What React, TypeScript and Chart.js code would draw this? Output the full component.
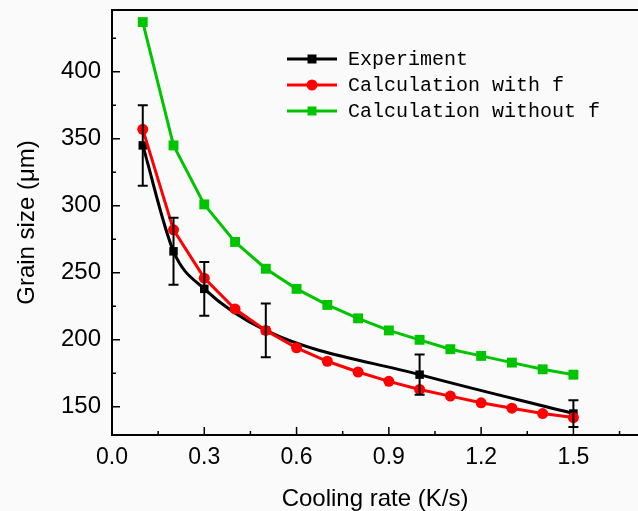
import React, { useEffect, useRef } from "react";
import { Chart, registerables } from "chart.js";
Chart.register(...registerables);

const expX = [0.1, 0.2, 0.3, 0.5, 1.0, 1.5];
const expY = [345, 266, 238, 207, 174, 145];
const expErr = [30, 25, 20, 20, 15, 10];
const calcX = [0.1, 0.2, 0.3, 0.4, 0.5, 0.6, 0.7, 0.8, 0.9, 1.0, 1.1, 1.2, 1.3, 1.4, 1.5];
const withF = [357, 282, 246, 223, 207, 194, 184, 176, 169, 163, 158, 153, 149, 145, 142];
const withoutF = [437, 345, 301, 273, 253, 238, 226, 216, 207, 200, 193, 188, 183, 178, 174];
const xMajor = [0, 0.3, 0.6, 0.9, 1.2, 1.5];
const xMinor = [0.15, 0.45, 0.75, 1.05, 1.35, 1.65];
const yMajor = [150, 200, 250, 300, 350, 400];
const yMinor = [175, 225, 275, 325, 375, 425];
const legendLabels = ["Experiment", "Calculation with f", "Calculation without f"];

const BLACK = "#000000";
const RED = "#ff0000";
const GREEN = "#00c400";

const decor = {
  id: "decor",
  afterDatasetsDraw(chart: any) {
    const { ctx, chartArea: a, scales } = chart;
    const x = scales.x;
    const y = scales.y;
    ctx.save();
    // error bars
    ctx.strokeStyle = BLACK;
    ctx.lineWidth = 2;
    expX.forEach((xv, i) => {
      const px = x.getPixelForValue(xv);
      const top = y.getPixelForValue(expY[i] + expErr[i]);
      const bot = y.getPixelForValue(expY[i] - expErr[i]);
      ctx.beginPath();
      ctx.moveTo(px, top);
      ctx.lineTo(px, bot);
      ctx.moveTo(px - 5, top);
      ctx.lineTo(px + 5, top);
      ctx.moveTo(px - 5, bot);
      ctx.lineTo(px + 5, bot);
      ctx.stroke();
    });
    // inward ticks
    ctx.lineWidth = 1.5;
    ctx.beginPath();
    xMajor.forEach((v) => {
      const p = x.getPixelForValue(v);
      ctx.moveTo(p, a.bottom);
      ctx.lineTo(p, a.bottom - 8);
    });
    xMinor.forEach((v) => {
      const p = x.getPixelForValue(v);
      ctx.moveTo(p, a.bottom);
      ctx.lineTo(p, a.bottom - 4);
    });
    yMajor.forEach((v) => {
      const p = y.getPixelForValue(v);
      ctx.moveTo(a.left, p);
      ctx.lineTo(a.left + 8, p);
    });
    yMinor.forEach((v) => {
      const p = y.getPixelForValue(v);
      ctx.moveTo(a.left, p);
      ctx.lineTo(a.left + 4, p);
    });
    ctx.stroke();
    // top frame
    ctx.lineWidth = 2;
    ctx.beginPath();
    ctx.moveTo(a.left, a.top);
    ctx.lineTo(a.right, a.top);
    ctx.stroke();
    // legend
    const colors = [BLACK, RED, GREEN];
    const styles = ["rect", "circle", "rect"];
    const rows = [59, 85, 111];
    ctx.font = "20px 'Liberation Mono'";
    ctx.textBaseline = "middle";
    ctx.textAlign = "left";
    legendLabels.forEach((lab, i) => {
      const ry = rows[i];
      ctx.strokeStyle = colors[i];
      ctx.lineWidth = 3;
      ctx.beginPath();
      ctx.moveTo(287, ry);
      ctx.lineTo(337, ry);
      ctx.stroke();
      ctx.fillStyle = colors[i];
      if (styles[i] === "circle") {
        ctx.beginPath();
        ctx.arc(312, ry, 5.5, 0, Math.PI * 2);
        ctx.fill();
      } else {
        ctx.fillRect(312 - 4.5, ry - 4.5, 9, 9);
      }
      ctx.fillStyle = BLACK;
      ctx.fillText(lab, 348, ry + 1);
    });
    ctx.restore();
  },
};

export default function App() {
  const ref = useRef<HTMLCanvasElement>(null);
  useEffect(() => {
    if (!ref.current) return;
    const chart = new Chart(ref.current, {
      type: "line",
      data: {
        datasets: [
          {
            label: legendLabels[1],
            data: calcX.map((v, i) => ({ x: v, y: withF[i] })),
            borderColor: RED,
            backgroundColor: RED,
            borderWidth: 3,
            pointStyle: "circle",
            pointRadius: 5.5,
            pointBorderWidth: 0,
            tension: 0,
            order: 0,
          },
          {
            label: legendLabels[0],
            data: expX.map((v, i) => ({ x: v, y: expY[i] })),
            borderColor: BLACK,
            backgroundColor: BLACK,
            borderWidth: 3,
            pointStyle: "rect",
            pointRadius: 6,
            pointBorderWidth: 0,
            cubicInterpolationMode: "monotone",
            order: 1,
          },
          {
            label: legendLabels[2],
            data: calcX.map((v, i) => ({ x: v, y: withoutF[i] })),
            borderColor: GREEN,
            backgroundColor: GREEN,
            borderWidth: 3,
            pointStyle: "rect",
            pointRadius: 7,
            pointBorderWidth: 0,
            tension: 0,
            order: 2,
          },
        ],
      },
      options: {
        responsive: false,
        animation: false,
        events: [],
        layout: { autoPadding: false, padding: { top: 10, right: 0, left: 0, bottom: 0 } },
        plugins: { legend: { display: false }, tooltip: { enabled: false } },
        scales: {
          x: {
            type: "linear",
            min: 0,
            max: 1.71,
            afterFit: (s: any) => {
              s.height = 76;
              s.paddingLeft = 0;
              s.paddingRight = 0;
            },
            afterBuildTicks: (s: any) => {
              s.ticks = xMajor.map((v) => ({ value: v }));
            },
            grid: { display: false, drawTicks: false },
            border: { display: true, color: BLACK, width: 2 },
            ticks: {
              padding: 9,
              color: BLACK,
              font: { family: "'Liberation Sans', Arial", size: 23 },
              callback: (v: any) => Number(v).toFixed(1),
              maxRotation: 0,
              autoSkip: false,
            },
            title: {
              display: true,
              text: "Cooling rate (K/s)",
              color: BLACK,
              font: { family: "'Liberation Sans', Arial", size: 24 },
              padding: { top: 0, bottom: -3 },
            },
          },
          y: {
            type: "linear",
            min: 129,
            max: 446,
            afterFit: (s: any) => {
              s.width = 112;
              s.paddingTop = 0;
              s.paddingBottom = 0;
            },
            afterBuildTicks: (s: any) => {
              s.ticks = yMajor.map((v) => ({ value: v }));
            },
            grid: { display: false, drawTicks: false },
            border: { display: true, color: BLACK, width: 2 },
            ticks: {
              padding: 11,
              color: BLACK,
              font: { family: "'Liberation Sans', Arial", size: 24 },
              callback: (v: any) => String(v),
              autoSkip: false,
            },
            title: {
              display: true,
              text: "Grain size (\u03bcm)",
              color: BLACK,
              font: { family: "'Liberation Sans', Arial", size: 24 },
              padding: { top: 13, bottom: 0 },
            },
          },
        },
      },
      plugins: [decor],
    } as any);
    return () => chart.destroy();
  }, []);
  return (
    <div
      style={{
        position: "absolute",
        left: 0,
        top: 0,
        width: 638,
        height: 511,
        background: "#fafafa",
      }}
    >
      <canvas ref={ref} width={638} height={511} style={{ display: "block" }} />
    </div>
  );
}
